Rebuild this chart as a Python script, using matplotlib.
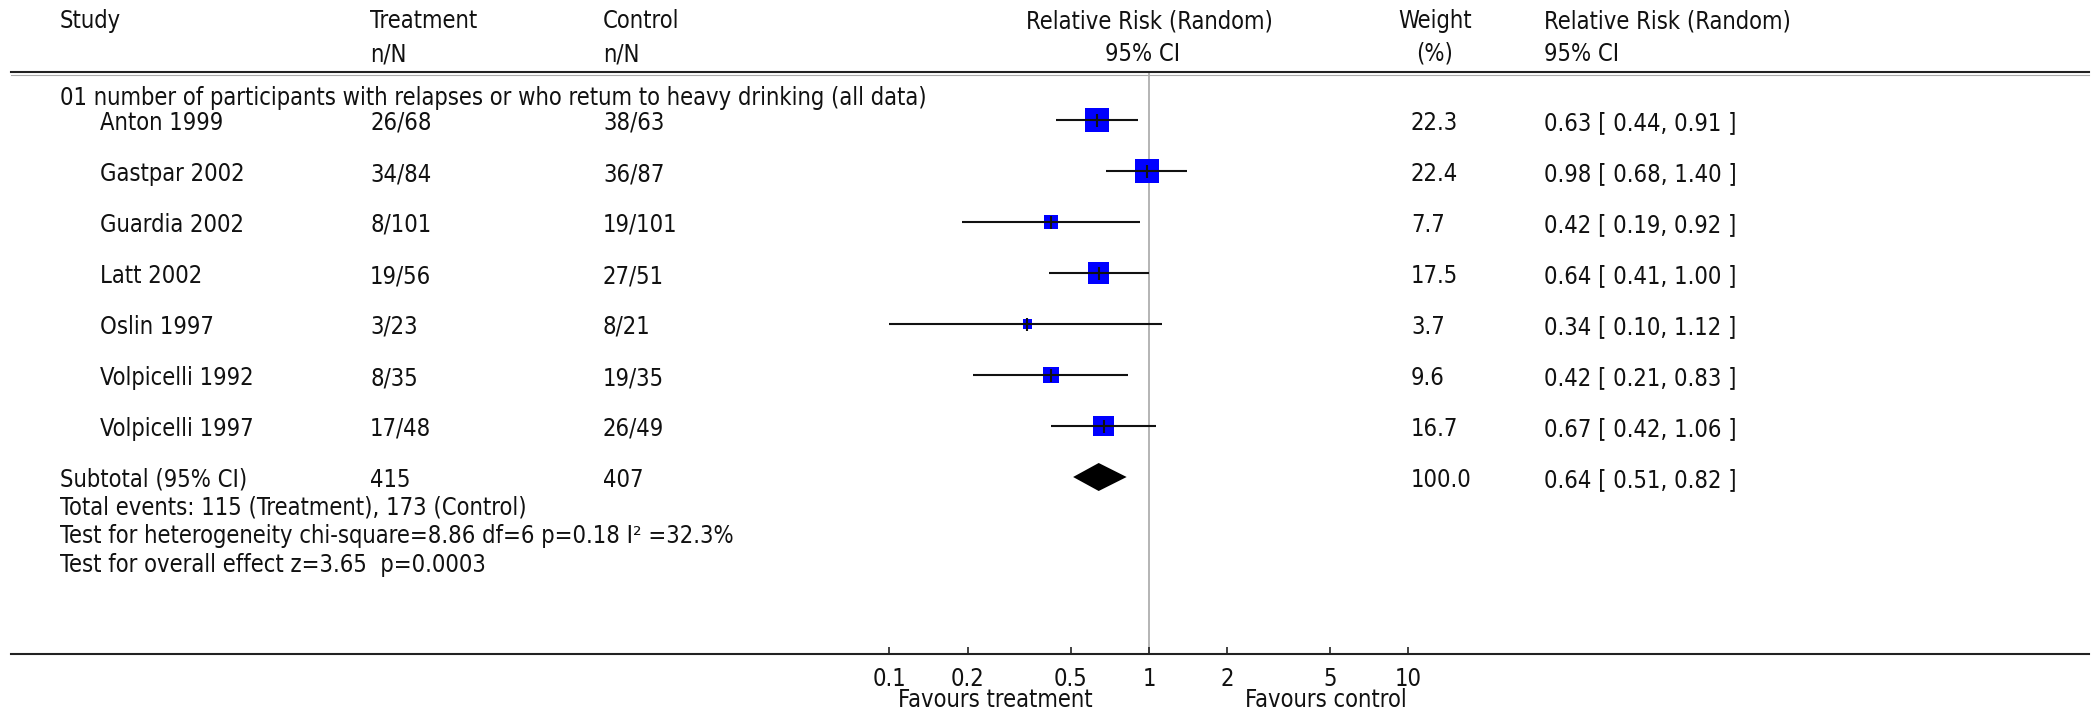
import numpy as np
import matplotlib
matplotlib.use("Agg")
import matplotlib.pyplot as plt
from matplotlib.transforms import blended_transform_factory

plt.rcParams['font.family'] = ['Liberation Sans Narrow', 'DejaVu Sans']
plt.rcParams['font.stretch'] = 'condensed'

# data
studies = ["Anton 1999", "Gastpar 2002", "Guardia 2002", "Latt 2002",
           "Oslin 1997", "Volpicelli 1992", "Volpicelli 1997"]
treat_nN = ["26/68", "34/84", "8/101", "19/56", "3/23", "8/35", "17/48"]
ctrl_nN = ["38/63", "36/87", "19/101", "27/51", "8/21", "19/35", "26/49"]
rr = [0.63, 0.98, 0.42, 0.64, 0.34, 0.42, 0.67]
rr_lo = [0.44, 0.68, 0.19, 0.41, 0.10, 0.21, 0.42]
rr_hi = [0.91, 1.40, 0.92, 1.00, 1.12, 0.83, 1.06]
weight = [22.3, 22.4, 7.7, 17.5, 3.7, 9.6, 16.7]
pooled_rr, pooled_lo, pooled_hi = 0.64, 0.51, 0.82
pooled_weight = 100.0
treat_total, ctrl_total = 415, 407
group_title = "01 number of participants with relapses or who retum to heavy drinking (all data)"
footer = ["Total events: 115 (Treatment), 173 (Control)",
          "Test for heterogeneity chi-square=8.86 df=6 p=0.18 I\u00b2 =32.3%",
          "Test for overall effect z=3.65  p=0.0003"]
ticks = [0.1, 0.2, 0.5, 1, 2, 5, 10]
tick_labels = ["0.1", "0.2", "0.5", "1", "2", "5", "10"]

W, H = 2093, 712
TXT = '#111111'
FS = 17

fig = plt.figure(figsize=(W / 100, H / 100), dpi=100)
# axes: bottom spine is the RR axis, y in pixels from the top
ax = fig.add_axes([11 / W, (H - 654) / H, (2089 - 11) / W, 654 / H])
ax.set_xscale('log')
dec = 259.5  # pixels per decade
ax.set_xlim(10 ** ((11 - 1149) / dec), 10 ** ((2089 - 1149) / dec))
ax.set_ylim(654, 0)
for s in ['top', 'left', 'right']:
    ax.spines[s].set_visible(False)
ax.spines['bottom'].set_linewidth(1.5)
ax.spines['bottom'].set_color('#222222')
ax.set_yticks([])
ax.set_xticks(ticks)
ax.set_xticklabels(tick_labels)
ax.minorticks_off()
ax.tick_params(axis='x', direction='in', length=5, width=1.2, color='#222222',
               labelsize=FS, labelcolor=TXT, pad=9)

rows = 120 + 51 * np.arange(len(studies))
pool_y = 120 + 51 * len(studies)

# header
ax.axhline(72, color='#222222', lw=1.5, clip_on=False)
ax.axhline(74.5, color='#aaaaaa', lw=0.8, clip_on=False)
ax.vlines(1, 72, 654, color='#a8a8a8', lw=1.2, zorder=1)

tr = blended_transform_factory(fig.transFigure, ax.transData)

def put(px, y, s, ha='left'):
    ax.text(px / W, y, s, transform=tr, ha=ha, va='center', fontsize=FS,
            color=TXT, clip_on=False)

put(60, 21, "Study")
put(370, 21, "Treatment")
put(370, 54, "n/N")
put(603, 21, "Control")
put(603, 54, "n/N")
put(1149, 21, "Relative Risk (Random)", ha='center')
put(1143, 54, "95% CI", ha='center')
put(1435, 21, "Weight", ha='center')
put(1435, 54, "(%)", ha='center')
put(1544, 21, "Relative Risk (Random)")
put(1544, 54, "95% CI")
put(60, 98, group_title)

# study rows
side = 24 * np.sqrt(np.array(weight) / 22.3)
ax.scatter(rr, rows, marker='s', s=(side * 0.72) ** 2, c='#0000ff', lw=0, zorder=2)
ax.hlines(rows, rr_lo, rr_hi, color='#111111', lw=1.5, zorder=3)
ax.scatter(rr, rows, marker='|', s=(13 * 0.72) ** 2, c='#111111', lw=1.5, zorder=4)
for i, y in enumerate(rows):
    put(100, y + 3, studies[i])
    put(370, y + 3, treat_nN[i])
    put(603, y + 3, ctrl_nN[i])
    put(1411, y + 3, f"{weight[i]:.1f}")
    put(1544, y + 3, f"{rr[i]:.2f} [ {rr_lo[i]:.2f}, {rr_hi[i]:.2f} ]")

# pooled
ax.fill([pooled_lo, pooled_rr, pooled_hi, pooled_rr],
        [pool_y, pool_y - 14, pool_y, pool_y + 14], color='black', lw=0, zorder=3)
put(60, pool_y + 3, "Subtotal (95% CI)")
put(370, pool_y + 3, str(treat_total))
put(603, pool_y + 3, str(ctrl_total))
put(1411, pool_y + 3, f"{pooled_weight:.1f}")
put(1544, pool_y + 3, f"{pooled_rr:.2f} [ {pooled_lo:.2f}, {pooled_hi:.2f} ]")
for k, line in enumerate(footer):
    put(60, 508 + 28.5 * k, line)

put(995, 700, "Favours treatment", ha='center')
put(1326, 700, "Favours control", ha='center')

fig.savefig("out.png", dpi=100)
